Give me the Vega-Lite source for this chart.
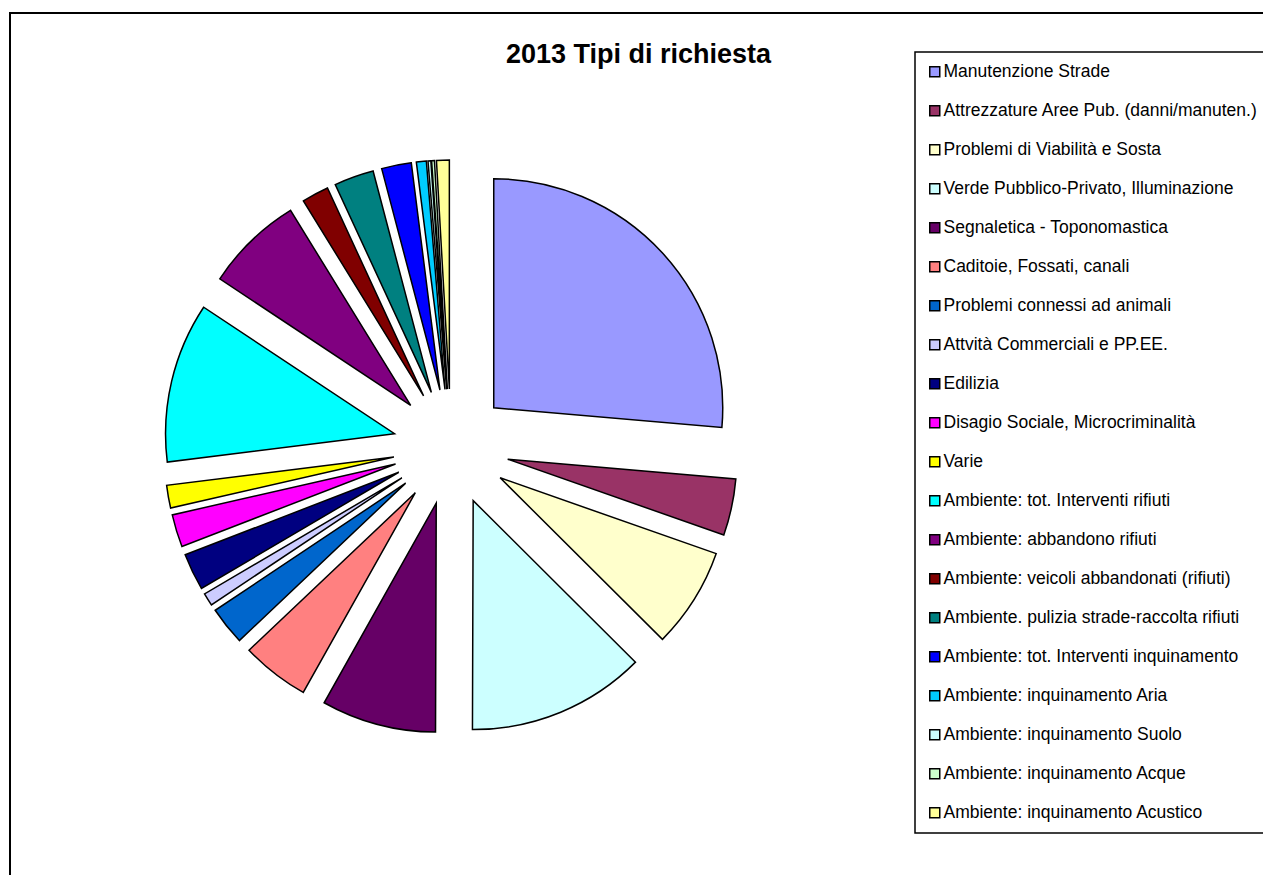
{
  "$schema": "https://vega.github.io/schema/vega-lite/v6.json",
  "autosize": "none",
  "width": 1258,
  "height": 868,
  "padding": {"left": 10, "top": 13, "right": 0, "bottom": 0},
  "background": "white",
  "title": {
    "text": "2013 Tipi di richiesta",
    "font": "Liberation Sans",
    "fontSize": 27,
    "fontWeight": "bold",
    "color": "black",
    "anchor": "start",
    "frame": "group",
    "orient": "top",
    "baseline": "alphabetic",
    "offset": 0,
    "dx": 496,
    "dy": 77
  },
  "data": {
    "values": [
      {"ordine": 1, "tipo": "Manutenzione Strade", "valore": 26.4},
      {"ordine": 2, "tipo": "Attrezzature Aree Pub. (danni/manuten.)", "valore": 4.0},
      {"ordine": 3, "tipo": "Problemi di Viabilità e Sosta", "valore": 7.1},
      {"ordine": 4, "tipo": "Verde Pubblico-Privato, Illuminazione", "valore": 12.6},
      {"ordine": 5, "tipo": "Segnaletica - Toponomastica", "valore": 8.1},
      {"ordine": 6, "tipo": "Caditoie, Fossati, canali", "valore": 4.8},
      {"ordine": 7, "tipo": "Problemi connessi ad animali", "valore": 2.7},
      {"ordine": 8, "tipo": "Attvità Commerciali e PP.EE.", "valore": 0.9},
      {"ordine": 9, "tipo": "Edilizia", "valore": 2.6},
      {"ordine": 10, "tipo": "Disagio Sociale, Microcriminalità", "valore": 2.3},
      {"ordine": 11, "tipo": "Varie", "valore": 1.6},
      {"ordine": 12, "tipo": "Ambiente: tot. Interventi rifiuti", "valore": 11.3},
      {"ordine": 13, "tipo": "Ambiente: abbandono rifiuti", "valore": 6.9},
      {"ordine": 14, "tipo": "Ambiente: veicoli abbandonati (rifiuti)", "valore": 1.9},
      {"ordine": 15, "tipo": "Ambiente. pulizia strade-raccolta rifiuti", "valore": 2.8},
      {"ordine": 16, "tipo": "Ambiente: tot. Interventi inquinamento", "valore": 2.1},
      {"ordine": 17, "tipo": "Ambiente: inquinamento Aria", "valore": 0.7},
      {"ordine": 18, "tipo": "Ambiente: inquinamento Suolo", "valore": 0.2},
      {"ordine": 19, "tipo": "Ambiente: inquinamento Acque", "valore": 0.2},
      {"ordine": 20, "tipo": "Ambiente: inquinamento Acustico", "valore": 0.9}
    ]
  },
  "transform": [
    {"stack": "valore", "groupby": [], "sort": [{"field": "ordine", "order": "ascending"}], "offset": "normalize", "as": ["t0", "t1"]},
    {"calculate": "sin(PI * (datum.t0 + datum.t1))", "as": "ex"},
    {"calculate": "-cos(PI * (datum.t0 + datum.t1))", "as": "ey"}
  ],
  "mark": {"type": "arc", "outerRadius": 229, "stroke": "black", "strokeWidth": 1.5, "strokeJoin": "miter"},
  "encoding": {
    "theta": {"field": "t0", "type": "quantitative", "scale": {"domain": [0, 1], "range": [0, 6.283185307179586]}},
    "theta2": {"field": "t1"},
    "x": {"field": "ex", "type": "quantitative", "scale": {"domain": [-1, 1], "range": [383, 499], "nice": false, "zero": false}, "axis": null},
    "y": {"field": "ey", "type": "quantitative", "scale": {"domain": [-1, 1], "range": [376, 492], "nice": false, "zero": false}, "axis": null},
    "color": {
      "field": "tipo",
      "type": "nominal",
      "scale": {
        "domain": [
          "Manutenzione Strade",
          "Attrezzature Aree Pub. (danni/manuten.)",
          "Problemi di Viabilità e Sosta",
          "Verde Pubblico-Privato, Illuminazione",
          "Segnaletica - Toponomastica",
          "Caditoie, Fossati, canali",
          "Problemi connessi ad animali",
          "Attvità Commerciali e PP.EE.",
          "Edilizia",
          "Disagio Sociale, Microcriminalità",
          "Varie",
          "Ambiente: tot. Interventi rifiuti",
          "Ambiente: abbandono rifiuti",
          "Ambiente: veicoli abbandonati (rifiuti)",
          "Ambiente. pulizia strade-raccolta rifiuti",
          "Ambiente: tot. Interventi inquinamento",
          "Ambiente: inquinamento Aria",
          "Ambiente: inquinamento Suolo",
          "Ambiente: inquinamento Acque",
          "Ambiente: inquinamento Acustico"
        ],
        "range": [
          "#9999FF", "#993366", "#FFFFCC", "#CCFFFF", "#660066",
          "#FF8080", "#0066CC", "#CCCCFF", "#000080", "#FF00FF",
          "#FFFF00", "#00FFFF", "#800080", "#800000", "#008080",
          "#0000FF", "#00CCFF", "#CCFFFF", "#CCFFCC", "#FFFF99"
        ]
      },
      "legend": {
        "title": null,
        "orient": "none",
        "legendX": 905,
        "legendY": 39,
        "padding": 11,
        "strokeColor": "black",
        "fillColor": "white",
        "symbolType": "square",
        "symbolSize": 100,
        "symbolStrokeColor": "black",
        "symbolStrokeWidth": 1.5,
        "symbolOpacity": 1,
        "labelFont": "Liberation Sans",
        "labelFontSize": 17.5,
        "labelColor": "black",
        "labelOffset": 0,
        "labelLimit": 400,
        "rowPadding": 20
      }
    },
    "order": {"field": "ordine", "type": "quantitative"}
  },
  "config": {
    "view": {"stroke": "black", "strokeWidth": 2},
    "legend": {"strokeWidth": 1.5}
  }
}
